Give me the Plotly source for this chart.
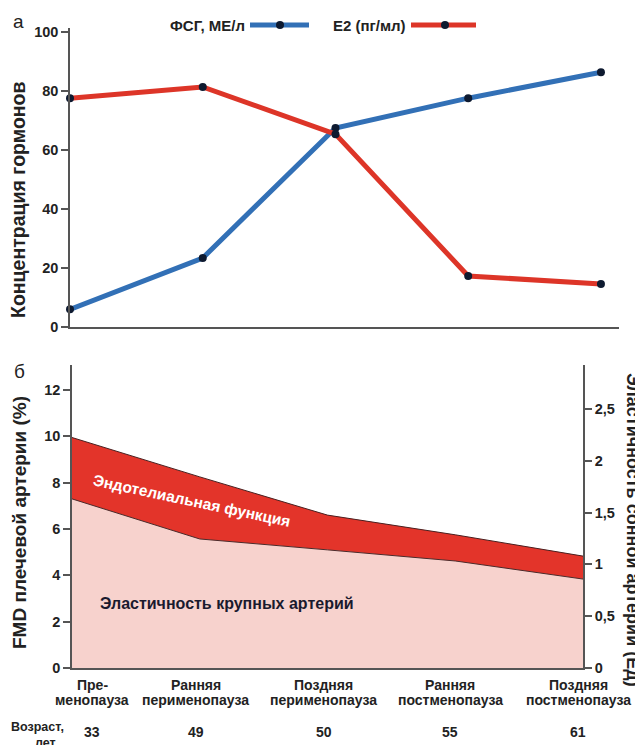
import plotly.graph_objects as go

# ---------------- data ----------------
stage_idx = [0, 1, 2, 3, 4]
categories = ["Пре-\nменопауза", "Ранняя\nперименопауза", "Поздняя\nперименопауза",
              "Ранняя\nпостменопауза", "Поздняя\nпостменопауза"]
ages = ["33", "49", "50", "55", "61"]

fsh = [6.0, 23.4, 67.5, 77.6, 86.4]        # ФСГ, МЕ/л
e2 = [77.6, 81.4, 65.4, 17.3, 14.6]        # E2 (пг/мл)

elasticity = [7.3, 5.57, 5.1, 4.62, 3.84]   # top of pink area (FMD units)
endothelial = [9.95, 8.25, 6.6, 5.75, 4.83] # top of red area (FMD units)

top_yticks = [0, 20, 40, 60, 80, 100]
left_yticks = [0, 2, 4, 6, 8, 10, 12]
right_yticks = [0, 0.5, 1, 1.5, 2, 2.5]

# ---------------- style ----------------
# the page adds an 8px body margin, so the figure is laid out in page pixels
OFF = 8
W, H = 643 - OFF, 745 - OFF
FONT = "Liberation Sans, Arial, sans-serif"
AX = "#555555"
TXT = "#222222"
BLUE = "#3270b6"
RED = "#dd3528"
DOT = "#0e1a30"
PINK = "#f7d2cd"
DARKRED = "#e3342a"

def px(x):
    return (x - OFF) / W

def py(y):
    return 1 - (y - OFF) / H

fig = go.Figure()

# top panel lines
fig.add_trace(go.Scatter(x=stage_idx, y=fsh, mode="lines+markers",
                         line=dict(color=BLUE, width=5),
                         marker=dict(color=DOT, size=8),
                         xaxis="x", yaxis="y", cliponaxis=False, showlegend=False))
fig.add_trace(go.Scatter(x=stage_idx, y=e2, mode="lines+markers",
                         line=dict(color=RED, width=5),
                         marker=dict(color=DOT, size=8),
                         xaxis="x", yaxis="y", cliponaxis=False, showlegend=False))

# bottom panel areas
fig.add_trace(go.Scatter(x=stage_idx, y=elasticity, mode="lines", fill="tozeroy",
                         fillcolor=PINK, line=dict(color="#4a2a2a", width=1),
                         xaxis="x2", yaxis="y2", showlegend=False))
fig.add_trace(go.Scatter(x=stage_idx, y=endothelial, mode="lines", fill="tonexty",
                         fillcolor=DARKRED, line=dict(color="#4a2020", width=1),
                         xaxis="x2", yaxis="y2", showlegend=False))

# invisible trace so the right axis is drawn
fig.add_trace(go.Scatter(x=[stage_idx[0]], y=[right_yticks[0]], mode="markers",
                         marker=dict(opacity=0), xaxis="x2", yaxis="y3",
                         showlegend=False, hoverinfo="skip"))

tickfont = dict(family=FONT, size=14.5, color=TXT, weight="bold")
common = dict(showline=True, linecolor=AX, linewidth=1.5, showgrid=False,
              zeroline=False, automargin=False)

fig.update_layout(
    width=W, height=H,
    margin=dict(l=0, r=0, t=0, b=0, autoexpand=False),
    paper_bgcolor="white", plot_bgcolor="white",
    font=dict(family=FONT, color=TXT),
    separators=", ",
    showlegend=False,
    xaxis=dict(domain=[px(70), px(619)], range=[0, 4.136], anchor="y",
               showticklabels=False, ticks="", **common),
    yaxis=dict(domain=[py(327), py(28)], range=[0, 101.4], anchor="x",
               tickvals=top_yticks, ticks="outside", ticklen=7, tickcolor=AX,
               tickwidth=1.5, tickfont=tickfont, **common),
    xaxis2=dict(domain=[px(72), px(583)], range=[0, 4], anchor="y2",
                showticklabels=False, ticks="", **common),
    yaxis2=dict(domain=[py(668), py(365)], range=[0, 13.08], anchor="x2",
                tickvals=left_yticks, ticks="outside", ticklen=7, tickcolor=AX,
                tickwidth=1.5, tickfont=tickfont, **common),
    yaxis3=dict(overlaying="y2", side="right", anchor="x2", range=[0, 2.925],
                tickvals=right_yticks,
                ticktext=[("%g" % v).replace(".", ",") for v in right_yticks],
                ticks="outside", ticklen=7, tickcolor=AX, tickwidth=1.5,
                tickfont=tickfont, **common),
)

ann = []

def bold(s, c=TXT):
    return dict(family=FONT, size=s, color=c, weight="bold")

def A(text, x, y, font, xanchor="center", yanchor="middle", **kw):
    d = dict(text=text, x=x, y=y, font=font, xanchor=xanchor, yanchor=yanchor,
             showarrow=False, xref=kw.pop("xref", "paper"), yref=kw.pop("yref", "paper"))
    d.update(kw)
    ann.append(d)

# panel letters
A("а", px(18), py(21), dict(family=FONT, size=19, color=TXT))
A("б", px(19), py(371), dict(family=FONT, size=19, color=TXT))

# axis titles
A("Концентрация гормонов", px(18), py(200), bold(19.5), textangle=-90)
A("FMD плечевой артерии (%)", px(19), py(523), bold(19), textangle=-90)
A("Эластичность сонной артерии (Ед)", px(633), py(530), bold(18), textangle=90)

# legend (text left of symbol)
legend_items = [("ФСГ, МЕ/л", BLUE, 247, 250, 309, 280),
                ("E2 (пг/мл)", RED, 408, 411, 476, 445)]
shapes = []
for label, col, tx, l0, l1, mx in legend_items:
    A(label, px(tx), py(25), bold(15), xanchor="right")
    shapes.append(dict(type="line", xref="paper", yref="paper", x0=px(l0), x1=px(l1),
                       y0=py(25), y1=py(25), line=dict(color=col, width=5)))
    shapes.append(dict(type="circle", xref="paper", yref="paper",
                       xsizemode="pixel", ysizemode="pixel",
                       xanchor=px(mx), yanchor=py(25), x0=-4, x1=4, y0=-4, y1=4,
                       fillcolor=DOT, line=dict(color=DOT, width=0)))

# area labels
A("Эндотелиальная функция", px(191), py(501), bold(15.5, "white"), textangle=12)
A("Эластичность крупных артерий", px(227), py(603), bold(16, "#1a1a2e"))

# category labels and ages
shifts = [20, -4, -4, -5, -5]
for i, cat in enumerate(categories):
    l1, l2 = cat.split("\n")
    for txt, yy in ((l1, 685), (l2, 700)):
        A(txt, stage_idx[i], py(yy), bold(14), xref="x2", xshift=shifts[i])
    A(ages[i], stage_idx[i], py(732), bold(14), xref="x2", xshift=shifts[i])
A("Возраст,", px(66), py(727), bold(12.5), xanchor="right")
A("лет", px(58), py(741), bold(12.5), xanchor="right", yanchor="top",
  yshift=7)

fig.update_layout(annotations=ann, shapes=shapes)
fig.write_html("out.html")
